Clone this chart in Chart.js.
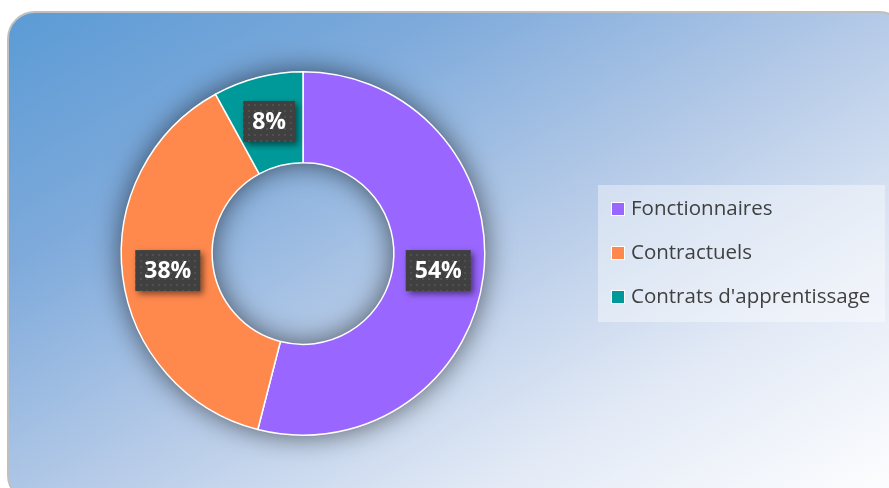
<!DOCTYPE html>
<html>
<head>
<meta charset="utf-8">
<script src="https://cdn.jsdelivr.net/npm/chart.js@4.4.1/dist/chart.umd.min.js"></script>
<style>
  html, body { margin: 0; padding: 0; background: #ffffff; overflow: hidden; }
  #frame {
    position: absolute; left: 7px; top: 11px; width: 900px; height: 492px;
    border: 2px solid #bfbfbf; border-radius: 28px; box-sizing: border-box;
    background: linear-gradient(150deg, #5b9bd5 0%, #7eaadb 25%, #b3c9e7 50%, #e3eaf6 75%, #ffffff 100%);
  }
  #chart { position: absolute; left: 0; top: 0; }
</style>
</head>
<body>
<div id="frame"></div>
<canvas id="chart" width="889" height="488"></canvas>
<script>
// data
const categories = ['Fonctionnaires', 'Contractuels', "Contrats d'apprentissage"];
const shares = [54, 38, 8];
const sliceColors = ['#9966ff', '#ff884d', '#009999'];

document.addEventListener('DOMContentLoaded', function () {
    const ctx = document.getElementById('chart').getContext('2d');

    // dotted dark fill for the value boxes
    function makePattern() {
        const p = document.createElement('canvas');
        p.width = 6; p.height = 6;
        const pc = p.getContext('2d');
        pc.fillStyle = '#404040';
        pc.fillRect(0, 0, 6, 6);
        pc.fillStyle = '#505050';
        pc.fillRect(2, 2, 2, 2);
        return ctx.createPattern(p, 'repeat');
    }

    // soft shadow ring under the doughnut
    const ringShadow = {
        id: 'ringShadow',
        beforeDatasetsDraw(chart) {
            const arc = chart.getDatasetMeta(0).data[0];
            if (!arc) return;
            const c = chart.ctx;
            c.save();
            c.shadowColor = 'rgba(0, 0, 0, 0.6)';
            c.shadowBlur = 28;
            c.fillStyle = sliceColors[0];
            c.beginPath();
            c.arc(arc.x, arc.y, arc.outerRadius, 0, Math.PI * 2);
            c.arc(arc.x, arc.y, arc.innerRadius, 0, Math.PI * 2, true);
            c.fill();
            c.restore();
        }
    };

    // percentage boxes on each slice
    const valueBoxes = {
        id: 'valueBoxes',
        afterDatasetsDraw(chart) {
            const c = chart.ctx;
            const meta = chart.getDatasetMeta(0);
            const pattern = makePattern();
            c.save();
            c.font = 'bold 23px "Open Sans", sans-serif';
            c.textAlign = 'center';
            c.textBaseline = 'middle';
            meta.data.forEach(function (arc, i) {
                const pos = arc.tooltipPosition();
                const txt = shares[i] + '%';
                const w = c.measureText(txt).width + 18;
                const h = 41;
                c.save();
                c.shadowColor = 'rgba(0, 0, 0, 0.5)';
                c.shadowBlur = 6;
                c.shadowOffsetX = 3;
                c.shadowOffsetY = 3;
                c.fillStyle = pattern;
                c.fillRect(pos.x - w / 2, pos.y - h / 2, w, h);
                c.restore();
                c.fillStyle = '#ffffff';
                c.fillText(txt, pos.x, pos.y + 1);
            });
            c.restore();
        }
    };

    // legend box on the right
    const sideLegend = {
        id: 'sideLegend',
        afterDraw(chart) {
            const c = chart.ctx;
            c.save();
            c.fillStyle = 'rgba(255, 255, 255, 0.4)';
            c.fillRect(598, 185, 287, 137);
            c.font = '20.5px "Open Sans", sans-serif';
            c.textBaseline = 'middle';
            categories.forEach(function (name, i) {
                const y = 209 + i * 44;
                c.fillStyle = '#ffffff';
                c.fillRect(611, y - 7, 14, 14);
                c.fillStyle = sliceColors[i];
                c.fillRect(612, y - 6, 12, 12);
                c.fillStyle = '#404040';
                c.fillText(name, 631, y);
            });
            c.restore();
        }
    };

    new Chart(ctx, {
        type: 'doughnut',
        data: {
            labels: categories,
            datasets: [{
                data: shares,
                backgroundColor: sliceColors,
                borderColor: '#ffffff',
                borderWidth: 1.5
            }]
        },
        options: {
            responsive: false,
            animation: false,
            cutout: '50%',
            layout: { padding: { left: 120, right: 403, top: 71, bottom: 52 } },
            plugins: {
                legend: { display: false },
                tooltip: { enabled: false }
            }
        },
        plugins: [ringShadow, valueBoxes, sideLegend]
    });
});
</script>
</body>
</html>
